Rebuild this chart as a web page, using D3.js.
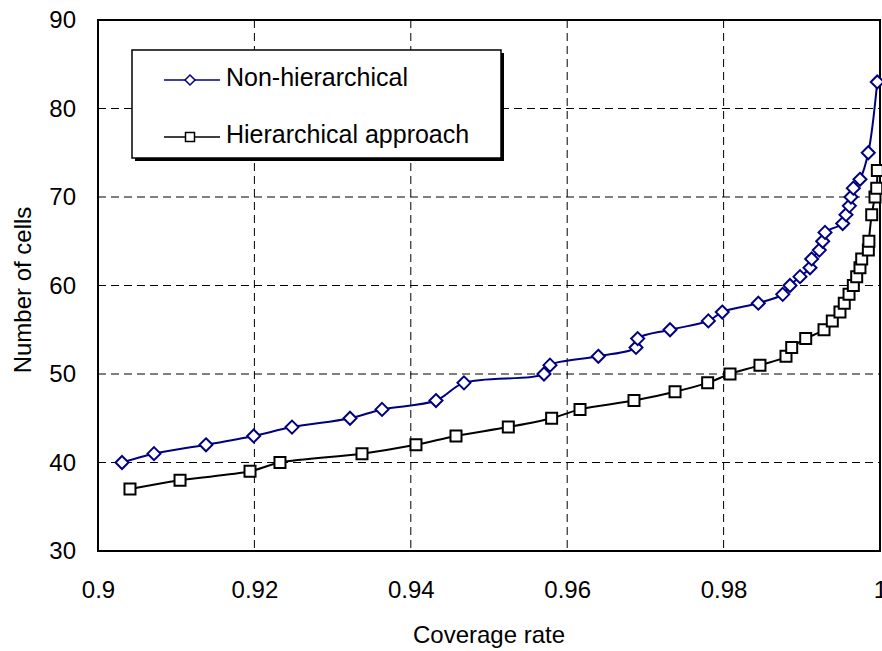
<!DOCTYPE html>
<html>
<head>
<meta charset="utf-8">
<script src="https://cdn.jsdelivr.net/npm/d3@7"></script>
<style>
  html, body { margin: 0; padding: 0; background: #fff; }
  text { font-family: "Liberation Sans", Arial, sans-serif; fill: #000; }
</style>
</head>
<body>
<svg id="chart" width="882" height="651"></svg>
<script>
// Coverage rate (x) against number of cells (y) for both approaches
const nonHierX = [0.90307, 0.90716, 0.91381, 0.91991, 0.92481, 0.93223, 0.93632, 0.94322, 0.9468,
  0.95703, 0.9578, 0.96398, 0.9688, 0.96901, 0.97315, 0.97805, 0.97983, 0.98444, 0.98756, 0.98849,
  0.98977, 0.99105, 0.99126, 0.99224, 0.99267, 0.99297, 0.99523, 0.99565, 0.99608, 0.99629, 0.99659,
  0.99744, 0.9985, 0.99965];
const nonHierY = [40, 41, 42, 43, 44, 45, 46, 47, 49,
  50, 51, 52, 53, 54, 55, 56, 57, 58, 59, 60,
  61, 62, 63, 64, 65, 66, 67, 68, 69, 70, 71,
  72, 75, 83];

const hierX = [0.90409, 0.91049, 0.91944, 0.92327, 0.93376, 0.94066, 0.94578, 0.95247, 0.95801,
  0.96164, 0.96854, 0.97379, 0.97796, 0.98082, 0.98465, 0.98798, 0.98871, 0.9905, 0.99284, 0.9939,
  0.99488, 0.99543, 0.99604, 0.99659, 0.99702, 0.99744, 0.99766, 0.99851, 0.99858, 0.99894, 0.99936,
  0.99958, 0.99966];
const hierY = [37, 38, 39, 40, 41, 42, 43, 44, 45,
  46, 47, 48, 49, 50, 51, 52, 53, 54, 55, 56,
  57, 58, 59, 60, 61, 62, 63, 64, 65, 68, 70,
  71, 73];

const xTicks = [0.9, 0.92, 0.94, 0.96, 0.98, 1];
const yTicks = [30, 40, 50, 60, 70, 80, 90];
const seriesNames = ["Non-hierarchical", "Hierarchical approach"];
const seriesColors = ["#000080", "#000000"];

const svg = d3.select("#chart");
const plotLeft = 98, plotRight = 880, plotTop = 20, plotBottom = 551;
const fontFamily = "Liberation Sans, Arial, sans-serif";

const x = d3.scaleLinear().domain([0.9, 1]).range([plotLeft, plotRight]);
const y = d3.scaleLinear().domain([30, 90]).range([plotBottom, plotTop]);

// dashed grid
const grid = svg.append("g");
grid.selectAll("line.gx").data(xTicks.slice(1, -1)).join("line")
  .attr("x1", d => x(d)).attr("x2", d => x(d))
  .attr("y1", plotTop).attr("y2", plotBottom)
  .attr("stroke", "#000").attr("stroke-width", 1).attr("stroke-dasharray", "8,5");
grid.selectAll("line.gy").data(yTicks.slice(1, -1)).join("line")
  .attr("x1", plotLeft).attr("x2", plotRight)
  .attr("y1", d => y(d)).attr("y2", d => y(d))
  .attr("stroke", "#000").attr("stroke-width", 1).attr("stroke-dasharray", "8,5");

// axes
const xAxis = svg.append("g").attr("transform", `translate(0,${plotBottom})`)
  .call(d3.axisBottom(x).tickValues(xTicks).tickSize(0).tickPadding(30)
    .tickFormat(d => String(+d.toFixed(2))));
xAxis.select(".domain").remove();
xAxis.attr("font-size", 24).attr("font-family", fontFamily);

const yAxis = svg.append("g").attr("transform", `translate(${plotLeft},0)`)
  .call(d3.axisLeft(y).tickValues(yTicks).tickSize(0).tickPadding(22));
yAxis.select(".domain").remove();
yAxis.attr("font-size", 24).attr("font-family", fontFamily);

// plot frame
svg.append("rect").attr("x", plotLeft).attr("y", plotTop)
  .attr("width", plotRight - plotLeft).attr("height", plotBottom - plotTop)
  .attr("fill", "none").attr("stroke", "#000").attr("stroke-width", 2);

// axis titles
svg.append("text").attr("x", 489).attr("y", 643).attr("text-anchor", "middle")
  .attr("font-size", 24).text("Coverage rate");
svg.append("text").attr("transform", "translate(31,290) rotate(-90)")
  .attr("text-anchor", "middle").attr("font-size", 24).text("Number of cells");

const line = d3.line().x(d => x(d[0])).y(d => y(d[1])).curve(d3.curveCatmullRom.alpha(0.5));

const diamond = s => `M0,${-s}L${s},0L0,${s}L${-s},0Z`;
const square = s => `M${-s},${-s}H${s}V${s}H${-s}Z`;

const series = [
  { pts: d3.zip(nonHierX, nonHierY), color: seriesColors[0], shape: diamond(6.5) },
  { pts: d3.zip(hierX, hierY), color: seriesColors[1], shape: square(5.5) }
];

series.forEach(s => {
  svg.append("path").datum(s.pts).attr("d", line)
    .attr("fill", "none").attr("stroke", s.color).attr("stroke-width", 2);
});
series.forEach(s => {
  svg.append("g").selectAll("path").data(s.pts).join("path")
    .attr("transform", d => `translate(${x(d[0])},${y(d[1])})`)
    .attr("d", s.shape)
    .attr("fill", "#fff").attr("stroke", s.color).attr("stroke-width", 2);
});

// legend with drop shadow
const lg = svg.append("g");
lg.append("rect").attr("x", 135).attr("y", 53).attr("width", 369).attr("height", 108).attr("fill", "#000");
lg.append("rect").attr("x", 132).attr("y", 50).attr("width", 369).attr("height", 108)
  .attr("fill", "#fff").attr("stroke", "#000").attr("stroke-width", 1.5);
const legendShapes = [diamond(5), square(4.5)];
[80, 137].forEach((ly, i) => {
  lg.append("line").attr("x1", 164).attr("x2", 220).attr("y1", ly).attr("y2", ly)
    .attr("stroke", seriesColors[i]).attr("stroke-width", 1.5);
  lg.append("path").attr("d", legendShapes[i]).attr("transform", `translate(190,${ly})`)
    .attr("fill", "#fff").attr("stroke", seriesColors[i]).attr("stroke-width", 1.5);
  lg.append("text").attr("x", 226).attr("y", ly + 6).attr("font-size", 25).text(seriesNames[i]);
});
</script>
</body>
</html>
